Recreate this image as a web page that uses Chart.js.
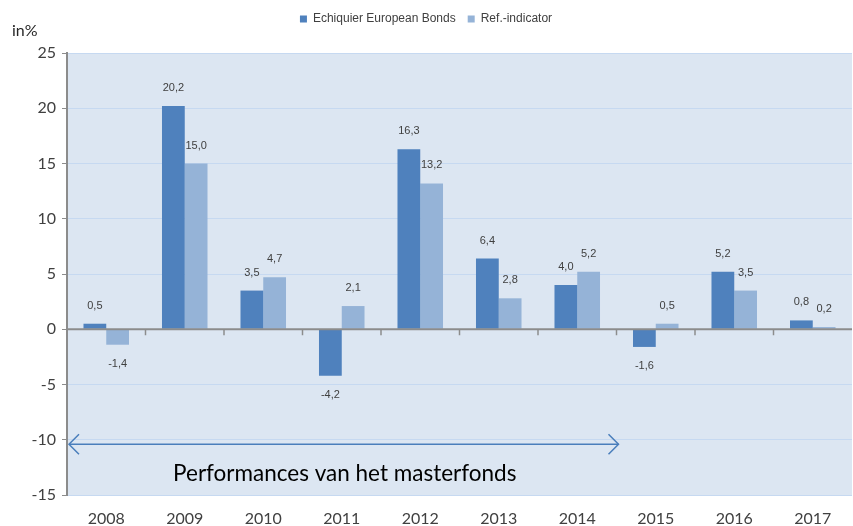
<!DOCTYPE html>
<html><head><meta charset="utf-8">
<script src="https://cdn.jsdelivr.net/npm/chart.js@4/dist/chart.umd.min.js"></script>
<style>html,body{margin:0;padding:0;background:#fff}#wrap{width:853px;height:526px}</style>
</head><body><div id="wrap"><canvas id="c"></canvas></div>
<script>
const categories = ['2008','2009','2010','2011','2012','2013','2014','2015','2016','2017'];
const fundValues = [0.5, 20.2, 3.5, -4.2, 16.3, 6.4, 4.0, -1.6, 5.2, 0.8];
const refValues = [-1.4, 15.0, 4.7, 2.1, 13.2, 2.8, 5.2, 0.5, 3.5, 0.2];
const seriesNames = ['Echiquier European Bonds', 'Ref.-indicator'];
const yTicks = [-15, -10, -5, 0, 5, 10, 15, 20, 25];
const yUnit = 'in%';
const arrowText = 'Performances van het masterfonds';
const arrowValue = -10.4;
const arrowEndIndex = 6; // arrow ends between 2014 and 2015

const plotBg = {
  id: 'plotBg',
  afterInit(chart) {
    if (chart.legend) {
      const orig = chart.legend.fit;
      chart.legend.fit = function () { orig.call(this); this.height += 18; };
    }
  },
  beforeDraw(chart) {
    const {ctx, chartArea: a} = chart;
    ctx.save(); ctx.fillStyle = '#dce6f2';
    ctx.fillRect(a.left, a.top, a.right - a.left, a.bottom - a.top);
    ctx.restore();
  }
};
const extras = {
  id: 'extras',
  afterDatasetsDraw(chart) {
    const {ctx, chartArea: a, scales: {x, y}} = chart;
    ctx.save();
    const y0 = y.getPixelForValue(0);
    ctx.strokeStyle = '#8c8c8c'; ctx.lineWidth = 2;
    ctx.beginPath(); ctx.moveTo(a.left, y0); ctx.lineTo(a.right, y0); ctx.stroke();
    ctx.lineWidth = 1.5;
    for (let i = 1; i < categories.length; i++) {
      const bx = (x.getPixelForValue(i - 1) + x.getPixelForValue(i)) / 2;
      ctx.beginPath(); ctx.moveTo(bx, y0); ctx.lineTo(bx, y0 + 6); ctx.stroke();
    }
    ctx.font = '11px "Liberation Sans", Arial, sans-serif';
    ctx.fillStyle = '#404040'; ctx.textAlign = 'center'; ctx.textBaseline = 'middle';
    chart.data.datasets.forEach((ds, di) => {
      const meta = chart.getDatasetMeta(di);
      meta.data.forEach((bar, i) => {
        const v = ds.data[i];
        const txt = v.toFixed(1).replace('.', ',');
        if (v >= 0) ctx.fillText(txt, bar.x, bar.y - 18);
        else ctx.fillText(txt, bar.x, bar.y + 19);
      });
    });
    ctx.font = '16px Lato, "Open Sans", sans-serif';
    ctx.textAlign = 'left'; ctx.fillStyle = '#262626';
    ctx.fillText(yUnit, 12, 31);
    const ya = y.getPixelForValue(arrowValue);
    const xl = a.left + 2;
    const xr = (x.getPixelForValue(arrowEndIndex) + x.getPixelForValue(arrowEndIndex + 1)) / 2 + 2;
    ctx.strokeStyle = '#4a7ebb'; ctx.lineWidth = 1.5;
    ctx.beginPath(); ctx.moveTo(xl, ya); ctx.lineTo(xr, ya); ctx.stroke();
    ctx.beginPath(); ctx.moveTo(xl + 10, ya - 10); ctx.lineTo(xl, ya); ctx.lineTo(xl + 10, ya + 10); ctx.stroke();
    ctx.beginPath(); ctx.moveTo(xr - 10, ya - 10); ctx.lineTo(xr, ya); ctx.lineTo(xr - 10, ya + 10); ctx.stroke();
    ctx.font = '22.5px Lato, "Open Sans", sans-serif';
    ctx.fillStyle = '#000'; ctx.textAlign = 'center';
    ctx.fillText(arrowText, (xl + xr) / 2 + 1, ya + 30);
    ctx.restore();
  }
};

new Chart(document.getElementById('c'), {
  type: 'bar',
  data: {
    labels: categories,
    datasets: [
      {label: seriesNames[0], data: fundValues, backgroundColor: '#4f81bd', categoryPercentage: 0.58, barPercentage: 1.0},
      {label: seriesNames[1], data: refValues, backgroundColor: '#95b3d7', categoryPercentage: 0.58, barPercentage: 1.0}
    ]
  },
  options: {
    responsive: true, maintainAspectRatio: false, animation: false,
    devicePixelRatio: 1,
    layout: {padding: {top: 1, right: 1, left: 0, bottom: 0}},
    plugins: {
      legend: {
        position: 'top', align: 'center',
        labels: {boxWidth: 7, boxHeight: 7, padding: 12, color: '#404040', font: {size: 12, family: '"Liberation Sans", Arial, sans-serif'}}
      },
      tooltip: {enabled: false}
    },
    scales: {
      x: {
        grid: {display: false, drawTicks: false},
        border: {display: false},
        ticks: {color: '#404040', font: {size: 16, family: 'Lato, "Open Sans", sans-serif'}, padding: 14},
        afterFit(s) { s.height = 31; }
      },
      y: {
        min: -15, max: 25,
        afterBuildTicks(s) { s.ticks = yTicks.map(v => ({value: v})); },
        grid: {color: '#c6d9f1', tickColor: '#8c8c8c', tickLength: 5, lineWidth: 1},
        border: {display: true, color: '#8c8c8c', width: 2},
        ticks: {color: '#404040', font: {size: 16, family: 'Lato, "Open Sans", sans-serif'}, padding: 6},
        afterFit(s) { s.width = 67; }
      }
    }
  },
  plugins: [plotBg, extras]
});
</script></body></html>
